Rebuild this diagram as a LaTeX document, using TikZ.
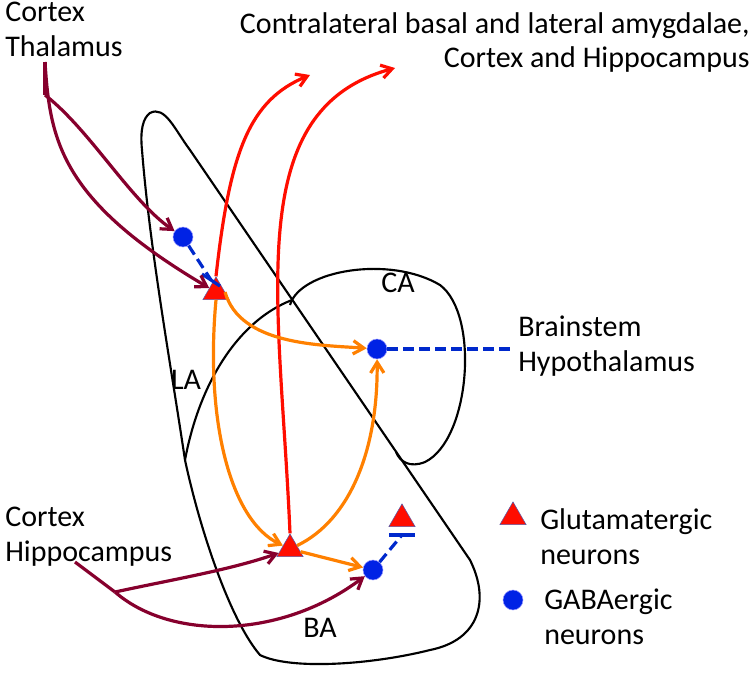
\documentclass[tikz,border=0pt]{standalone}
\usepackage{fontspec}
\setmainfont{Carlito}
\usetikzlibrary{arrows.meta,shapes.geometric,calc}
\begin{document}
\begin{tikzpicture}[x=0.75pt,y=-0.75pt,
 txt/.style={font=\fontsize{22.5}{26}\selectfont,align=left,inner sep=0pt},
 pur/.style={draw=purple!70!black,line width=2.4pt,-{Straight Barb[length=8pt,width=10pt]}},
 red/.style={draw=red!90!orange,line width=2.4pt,-{Straight Barb[length=8pt,width=10pt]}},
 ora/.style={draw=orange,line width=2.4pt,-{Straight Barb[length=8pt,width=10pt]}},
 blu/.style={draw=blue!80!cyan!80!black,line width=2.4pt,dash pattern=on 8pt off 4pt},
 gaba/.style={circle,fill=blue!85!cyan!90!black,draw=blue!40,minimum size=15pt,inner sep=0pt},
 glu/.style={isosceles triangle,shape border rotate=90,isosceles triangle apex angle=60,fill=red!90!orange,draw=gray!70!blue,minimum height=17pt,inner sep=0pt},
 reg/.style={draw=black,line width=1.6pt}]
\useasboundingbox (0,0) rectangle (756,683);
% regions
\draw[reg] (150,113) .. controls (165,105) and (175,130) .. (190,150) -- (470,560) .. controls (490,600) and (480,640) .. (430,650) .. controls (370,665) and (290,670) .. (260,655) .. controls (230,620) and (200,530) .. (185,460) .. controls (170,360) and (150,250) .. (142,150) .. controls (140,130) and (143,118) .. (150,113) -- cycle;
\draw[reg] (185,460) .. controls (200,380) and (240,320) .. (292,300);
\draw[reg] (290,305) .. controls (300,270) and (390,255) .. (440,285) .. controls (480,315) and (470,440) .. (425,462) .. controls (410,468) and (400,462) .. (396,452);
\node[txt] (la) at (186,380) {LA};
\node[txt] (ca) at (398,283) {CA};
\node[txt] (ba) at (320,628) {BA};
% texts
\node[txt,anchor=north west] (ct) at (5,2) {Cortex\\Thalamus};
\node[txt,anchor=north east,align=right] (contra) at (750,12) {Contralateral basal and lateral amygdalae,\\Cortex and Hippocampus};
\node[txt,anchor=west] (bh) at (518,346) {Brainstem\\Hypothalamus};
\node[txt,anchor=west] (ch) at (5,537) {Cortex\\Hippocampus};
\node[txt,anchor=west] (gl) at (540,537) {Glutamatergic\\neurons};
\node[txt,anchor=west] (gb) at (544,617) {GABAergic\\neurons};
% neurons
\node[gaba] (g1) at (183,237) {};
\node[glu] (t1) at (216,292) {};
\node[gaba] (gca) at (377,349) {};
\node[glu] (tba) at (290,549) {};
\node[gaba] (gba) at (373,570) {};
\node[glu] (t2) at (402,519) {};
\node[glu] (lt) at (513,517) {};
\node[gaba] (lg) at (513,600) {};
\coordinate (bar1) at (211,280);
\coordinate (bar2) at (402,535);
\coordinate (bhend) at (515,349);
\coordinate (r1) at (310,75);
\coordinate (r2) at (395,68);
\coordinate (p1) at (45,95);
\coordinate (p0) at (45,62);
\coordinate (q0) at (75,562);
\coordinate (q1) at (115,592);
% inhibitory
\draw[blu] (g1) -- (bar1);
\draw[blue!80!cyan!80!black,line width=2.4pt] ($(bar1)+(-9,-6)$) -- ($(bar1)+(9,6)$);
\draw[blu] (gca) -- (bhend);
\draw[blu] (gba) -- (bar2);
\draw[blue!80!cyan!80!black,line width=2.4pt] ($(bar2)+(-13,0)$) -- ($(bar2)+(13,0)$);
% purple
\draw[purple!70!black,line width=2.4pt] (p0) -- (p1);
\draw[pur] (p1) .. controls (90,130) and (130,200) .. (g1);
\draw[pur] (p0) .. controls (50,140) and (60,200) .. (t1);
\draw[purple!70!black,line width=2.4pt] (q0) -- (q1);
\draw[pur] (q1) .. controls (170,580) and (230,570) .. (tba);
\draw[pur] (q1) .. controls (170,640) and (280,640) .. (gba);
% red
\draw[red] (t1.north) .. controls (230,150) and (250,100) .. (r1);
\draw[red] (tba.north) .. controls (280,300) and (240,110) .. (r2);
% orange
\draw[ora] (t1.east) .. controls (240,345) and (320,345) .. (gca);
\draw[ora] (t1.south) .. controls (205,420) and (230,520) .. (tba);
\draw[ora] (tba) .. controls (350,520) and (378,450) .. (gca);
\draw[ora] (tba) -- (gba);
\end{tikzpicture}
\end{document}
